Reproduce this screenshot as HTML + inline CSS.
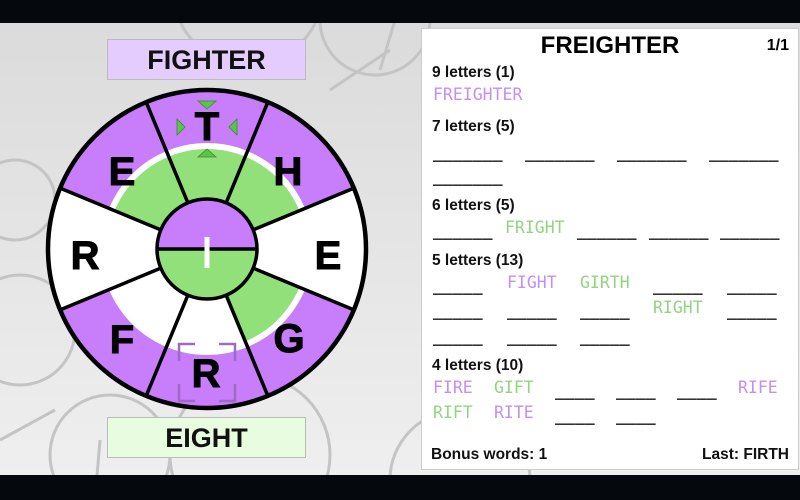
<!DOCTYPE html>
<html><head><meta charset="utf-8"><style>
html,body{margin:0;width:800px;height:500px;overflow:hidden}
body{position:relative;background:#e6e6e6;font-family:"Liberation Sans",sans-serif}
svg{display:block}
.bar{position:absolute;left:0;width:800px;background:#05080d}
.lbl{position:absolute;left:107px;width:197px;height:39px;border:1px solid #bbb;text-align:center;font-weight:bold;font-size:27px;line-height:40px;color:#111}
#panel{position:absolute;left:421px;top:28px;width:376px;height:440px;background:#fff;border:1px solid #ccc;overflow:hidden}
.t{position:absolute;white-space:nowrap}
.h{font-weight:bold;font-size:15.5px;color:#111;left:10px}
.w{font-family:"DejaVu Sans Mono","Liberation Mono",monospace;font-size:16.5px;color:#333;font-weight:bold}
.p{color:#c48ef2;font-weight:normal}.g{color:#8fd67e;font-weight:normal}
</style></head><body>
<svg width="800" height="500" style="position:absolute;left:0;top:0">
<defs><linearGradient id="bg" x1="0" y1="0" x2="0" y2="1"><stop offset="0" stop-color="#dadada"/><stop offset="1" stop-color="#f0f0f0"/></linearGradient></defs>
<rect width="800" height="500" fill="url(#bg)"/>
<g fill="none" stroke="#c4c4c4" stroke-width="3">
<circle cx="375" cy="20" r="55"/><circle cx="248" cy="-10" r="75"/>
<circle cx="110" cy="455" r="60"/><circle cx="250" cy="455" r="80"/>
<circle cx="460" cy="480" r="70"/><circle cx="20" cy="330" r="55"/>
<circle cx="15" cy="200" r="40"/><path d="M0 440 L55 410 M95 500 L100 440 M330 90 L390 50 M380 70 L395 20"/>
</g>
</svg>
<div class="bar" style="top:0;height:23px"></div>
<div class="bar" style="top:475px;height:25px"></div>
<div class="lbl" style="top:39px;background:#e5ccff">FIGHTER</div>
<div class="lbl" style="top:417px;background:#e8fde0">EIGHT</div>
<svg width="420" height="470" style="position:absolute;left:0;top:0">
<g transform="translate(207,249)">
<defs>
<path id="o" d="M0 0 L-61.6 -148.7 A161 161 0 0 1 61.6 -148.7 Z"/>
<path id="i" d="M0 0 L-38.3 -92.4 A100 100 0 0 1 38.3 -92.4 Z"/>
</defs>
<circle r="161" fill="#fff"/>
<use href="#o" fill="#c87dfb" transform="rotate(0)"/>
<use href="#o" fill="#c87dfb" transform="rotate(45)"/>
<use href="#o" fill="#fff" transform="rotate(90)"/>
<use href="#o" fill="#c87dfb" transform="rotate(135)"/>
<use href="#o" fill="#c87dfb" transform="rotate(180)"/>
<use href="#o" fill="#c87dfb" transform="rotate(225)"/>
<use href="#o" fill="#fff" transform="rotate(270)"/>
<use href="#o" fill="#c87dfb" transform="rotate(315)"/>
<circle r="106" fill="#fff"/>
<use href="#i" fill="#92e07a" transform="rotate(0)"/>
<use href="#i" fill="#92e07a" transform="rotate(45)"/>
<use href="#i" fill="#92e07a" transform="rotate(135)"/>
<use href="#i" fill="#92e07a" transform="rotate(315)"/>
<g stroke="#000" stroke-width="3.5">
<line x1="0" y1="0" x2="-61.6" y2="-148.7" transform="rotate(0)"/>
<line x1="0" y1="0" x2="-61.6" y2="-148.7" transform="rotate(45)"/>
<line x1="0" y1="0" x2="-61.6" y2="-148.7" transform="rotate(90)"/>
<line x1="0" y1="0" x2="-61.6" y2="-148.7" transform="rotate(135)"/>
<line x1="0" y1="0" x2="-61.6" y2="-148.7" transform="rotate(180)"/>
<line x1="0" y1="0" x2="-61.6" y2="-148.7" transform="rotate(225)"/>
<line x1="0" y1="0" x2="-61.6" y2="-148.7" transform="rotate(270)"/>
<line x1="0" y1="0" x2="-61.6" y2="-148.7" transform="rotate(315)"/>
</g>
<circle r="159" fill="none" stroke="#000" stroke-width="4.5"/>
<path d="M-50 0 A50 50 0 0 1 50 0 Z" fill="#c87dfb"/>
<path d="M-50 0 A50 50 0 0 0 50 0 Z" fill="#92e07a"/>
<circle r="50" fill="none" stroke="#000" stroke-width="3.5"/>
<line x1="-50" y1="0" x2="50" y2="0" stroke="#000" stroke-width="3.5"/>
<rect x="-2.5" y="-12" width="5" height="31" fill="#fff"/>
<g fill="#5cc44a" stroke="#3a8a30" stroke-width="0.8">
<path d="M-9 -148 L9 -148 L0 -140 Z"/><path d="M-9 -92 L9 -92 L0 -100 Z"/>
<path d="M-30 -130 L-30 -114 L-22 -122 Z"/><path d="M30 -130 L30 -114 L22 -122 Z"/>
</g>
<g fill="none" stroke="#9b6cc4" stroke-width="2.5">
<path d="M-28 112 V95 H-12 M12 95 H28 V112 M-28 135 V152 H-12 M12 152 H28 V135"/>
</g>
<g font-family="Liberation Sans,sans-serif" font-weight="bold" font-size="40" text-anchor="middle" fill="#000" stroke="#000" stroke-width="1">
<text x="0" y="-109">T</text>
<text x="81" y="-64">H</text>
<text x="121" y="20">E</text>
<text x="82" y="103">G</text>
<text x="-1" y="138">R</text>
<text x="-85" y="104">F</text>
<text x="-122" y="20">R</text>
<text x="-85" y="-64">E</text>
</g>
</g>
</svg>
<div id="panel">
<div class="t" style="left:0;width:376px;text-align:center;top:3px;font-weight:bold;font-size:24px">FREIGHTER</div>
<div class="t" style="right:9px;top:8px;font-weight:bold;font-size:16px">1/1</div>
<div class="t h" style="top:35px">9 letters (1)</div>
<div class="t w p" style="left:11px;top:56px">FREIGHTER</div>
<div class="t h" style="top:89px">7 letters (5)</div>
<div class="t w" style="left:11px;top:114px">_______</div><div class="t w" style="left:103px;top:114px">_______</div><div class="t w" style="left:195px;top:114px">_______</div><div class="t w" style="left:287px;top:114px">_______</div>
<div class="t w" style="left:11px;top:138px">_______</div>
<div class="t h" style="top:168px">6 letters (5)</div>
<div class="t w" style="left:11px;top:192px">______</div><div class="t w g" style="left:83px;top:189px">FRIGHT</div><div class="t w" style="left:155px;top:192px">______</div><div class="t w" style="left:227px;top:192px">______</div><div class="t w" style="left:298px;top:192px">______</div>
<div class="t h" style="top:223px">5 letters (13)</div>
<div class="t w" style="left:11px;top:247px">_____</div><div class="t w p" style="left:85px;top:244px">FIGHT</div><div class="t w g" style="left:158px;top:244px">GIRTH</div><div class="t w" style="left:231px;top:247px">_____</div><div class="t w" style="left:305px;top:247px">_____</div>
<div class="t w" style="left:11px;top:272px">_____</div><div class="t w" style="left:85px;top:272px">_____</div><div class="t w" style="left:158px;top:272px">_____</div><div class="t w g" style="left:231px;top:269px">RIGHT</div><div class="t w" style="left:305px;top:272px">_____</div>
<div class="t w" style="left:11px;top:298px">_____</div><div class="t w" style="left:85px;top:298px">_____</div><div class="t w" style="left:158px;top:298px">_____</div>
<div class="t h" style="top:328px">4 letters (10)</div>
<div class="t w p" style="left:11px;top:349px">FIRE</div><div class="t w g" style="left:72px;top:349px">GIFT</div><div class="t w" style="left:133px;top:352px">____</div><div class="t w" style="left:194px;top:352px">____</div><div class="t w" style="left:255px;top:352px">____</div><div class="t w p" style="left:316px;top:349px">RIFE</div>
<div class="t w g" style="left:11px;top:374px">RIFT</div><div class="t w p" style="left:72px;top:374px">RITE</div><div class="t w" style="left:133px;top:377px">____</div><div class="t w" style="left:194px;top:377px">____</div>
<div class="t h" style="left:9px;top:417px">Bonus words: 1</div>
<div class="t h" style="left:auto;right:9px;top:417px">Last: FIRTH</div>
</div>
</body></html>
